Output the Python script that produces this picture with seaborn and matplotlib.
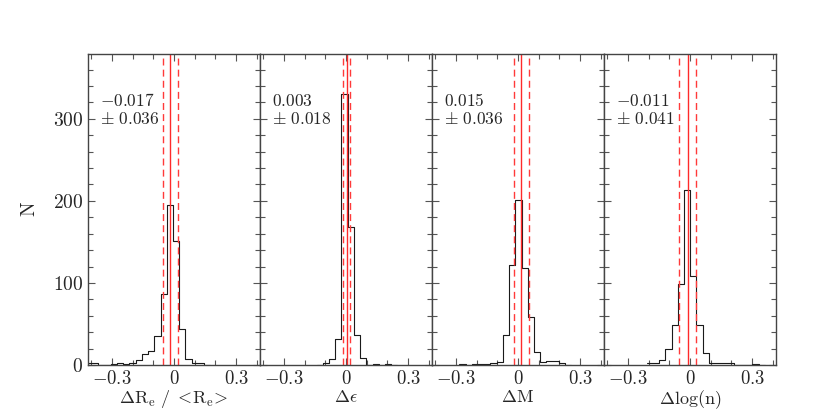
import numpy as np
import pandas as pd
import matplotlib
matplotlib.use('Agg')
import matplotlib.pyplot as plt
import seaborn as sns
from matplotlib.ticker import FixedLocator, MultipleLocator

sns.set_theme(style='ticks')
plt.rcParams['mathtext.fontset'] = 'cm'
plt.rcParams['font.family'] = ['DejaVu Serif']

# histogram counts, bin width 0.03
bin_width = 0.03

re_first_edge = -0.425
re_counts = [2, 2, 0, 0, 1, 2, 1, 2, 6, 14, 17, 35, 87, 195, 151, 44, 7, 2, 3, 0]

ell_first_edge = -0.142
ell_counts = [0, 2, 7, 32, 330, 168, 36, 9, 0, 1, 0, 1, 0]

mag_first_edge = -0.283
mag_counts = [1, 0, 1, 1, 1, 2, 4, 37, 122, 201, 118, 59, 16, 4, 5, 5, 2, 0]

logn_first_edge = -0.209
logn_counts = [3, 2, 6, 19, 49, 99, 213, 108, 49, 15, 2, 3, 2, 3, 0, 0, 0, 1, 0]

# mean and scatter for each panel
means = [-0.017, 0.003, 0.015, -0.011]
sigmas = [0.036, 0.018, 0.036, 0.041]
mean_labels = ['-0.017', '0.003', '0.015', '-0.011']
sigma_labels = ['0.036', '0.018', '0.036', '0.041']

xlabels = [r'$\Delta\mathrm{R}_\mathrm{e}\ /\ <\!\mathrm{R}_\mathrm{e}\!>$', r'$\Delta\epsilon$',
           r'$\Delta\mathrm{M}$', r'$\Delta\mathrm{log(n)}$']

panels = [(re_first_edge, re_counts), (ell_first_edge, ell_counts),
          (mag_first_edge, mag_counts), (logn_first_edge, logn_counts)]

fig, axes = plt.subplots(1, 4, figsize=(8.17, 4.09), dpi=100, sharey=True)
fig.subplots_adjust(left=0.1077, right=0.9498, bottom=0.1076, top=0.868, wspace=0)

for i, ax in enumerate(axes):
    first_edge, counts = panels[i]
    n = len(counts)
    df = pd.DataFrame({'x': first_edge + bin_width * (np.arange(n) + 0.5),
                       'N': counts})
    sns.histplot(data=df, x='x', weights='N', binwidth=bin_width,
                 binrange=(first_edge, first_edge + n * bin_width),
                 element='step', fill=False, color='#1a1a1a', linewidth=0.8, ax=ax)

    # mean (solid) and +/- 1 sigma (dashed)
    ax.axvline(means[i], color='#ff2a2a', lw=1.0)
    ax.axvline(means[i] - sigmas[i], color='#ff3a3a', lw=1.0, ls=(0, (5, 3)))
    ax.axvline(means[i] + sigmas[i], color='#ff3a3a', lw=1.0, ls=(0, (5, 3)))

    ax.set_xlim(-0.415, 0.415)
    ax.set_ylim(0, 379)
    ax.xaxis.set_major_locator(FixedLocator([-0.3, 0, 0.3]))
    ax.xaxis.set_minor_locator(MultipleLocator(0.1))
    ax.set_xticklabels([r'$-0.3$', r'$0$', r'$0.3$'], fontsize=13.5)
    ax.yaxis.set_major_locator(FixedLocator([0, 100, 200, 300]))
    ax.yaxis.set_minor_locator(MultipleLocator(20))
    ax.tick_params(which='both', direction='in', top=True, right=True,
                   color='#555555', width=0.8)
    ax.tick_params(which='major', length=5, pad=3.5)
    ax.tick_params(which='minor', length=3.5)
    for sp in ax.spines.values():
        sp.set_color('#444444')
        sp.set_linewidth(1.0)

    ax.set_xlabel(xlabels[i], fontsize=13, labelpad=0)
    ax.set_ylabel('')

    ax.text(0.07, 0.875, r'$' + mean_labels[i] + r'$' + '\n' + r'$\pm\ ' + sigma_labels[i] + r'$',
            transform=ax.transAxes, ha='left', va='top', fontsize=12.5,
            linespacing=1.1)

axes[0].set_yticklabels([r'$0$', r'$100$', r'$200$', r'$300$'], fontsize=14)
axes[0].set_ylabel(r'$\mathrm{N}$', fontsize=14, labelpad=10)
for ax in axes[1:]:
    ax.tick_params(axis='y', labelleft=False)

plt.savefig('out.png', dpi=100)
